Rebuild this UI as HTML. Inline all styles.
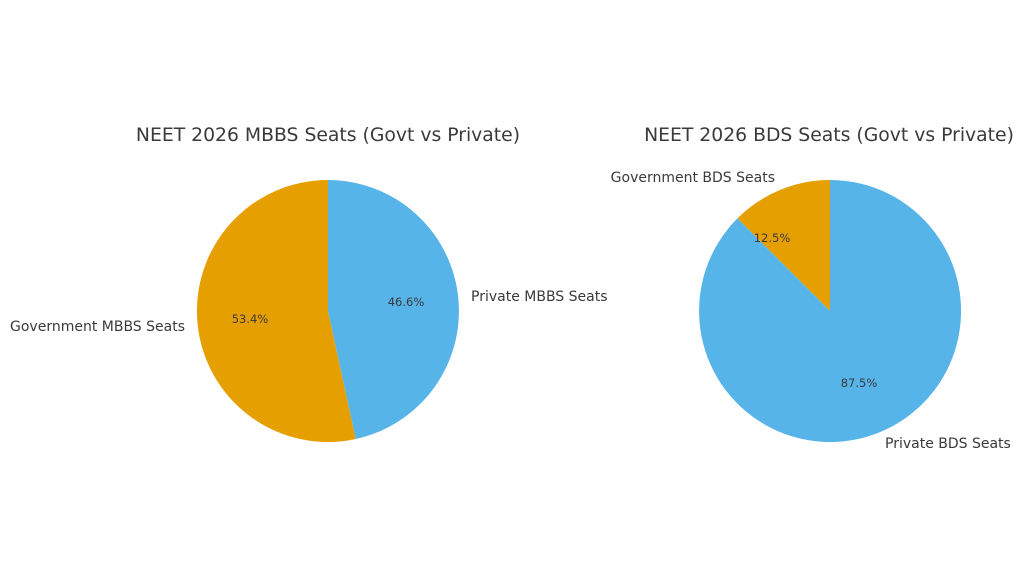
<!DOCTYPE html>
<html><head><meta charset="utf-8"><style>body{margin:0;background:#fff}svg{display:block}</style></head>
<body>
<svg width="1024" height="576" viewBox="0 0 1024 576" xmlns="http://www.w3.org/2000/svg" font-family="DejaVu Sans, Liberation Sans, sans-serif" fill="#3a3a3a">
<rect width="1024" height="576" fill="#fff"/>
<path d="M328,311 L328,180 A131,131 0 1,0 355.8,439 Z" fill="#E69F00"/>
<path d="M328,311 L355.8,439 A131,131 0 0,0 328,180 Z" fill="#56B4E9"/>
<text x="328" y="141" font-size="18.8" text-anchor="middle">NEET 2026 MBBS Seats (Govt vs Private)</text>
<text x="185" y="331" font-size="14" text-anchor="end">Government MBBS Seats</text>
<text x="471" y="301" font-size="14">Private MBBS Seats</text>
<text x="250" y="323" font-size="11.5" text-anchor="middle">53.4%</text>
<text x="406" y="306" font-size="11.5" text-anchor="middle">46.6%</text>
<path d="M830,311 L830,180 A131,131 0 0,0 737.4,218.4 Z" fill="#E69F00"/>
<path d="M830,311 L737.4,218.4 A131,131 0 1,0 830,180 Z" fill="#56B4E9"/>
<text x="829" y="141" font-size="18.8" text-anchor="middle">NEET 2026 BDS Seats (Govt vs Private)</text>
<text x="775" y="182" font-size="14" text-anchor="end">Government BDS Seats</text>
<text x="885" y="448" font-size="14">Private BDS Seats</text>
<text x="772" y="242" font-size="11.5" text-anchor="middle">12.5%</text>
<text x="859" y="387" font-size="11.5" text-anchor="middle">87.5%</text>
</svg>
</body></html>
